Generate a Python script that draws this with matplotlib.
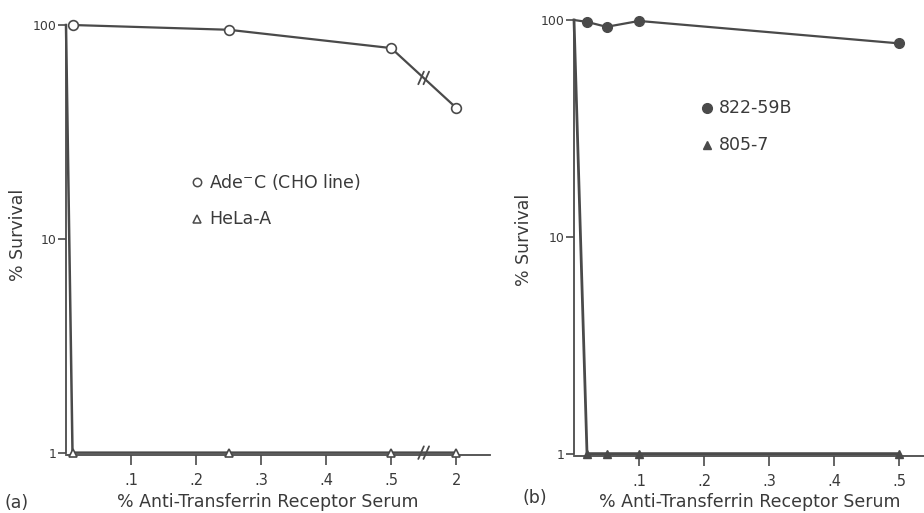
import numpy as np
import matplotlib.pyplot as plt

# panel (a)
a_circ_x = [0.01, 0.25, 0.5, 2]
a_circ_y = [100, 95, 78, 41]
a_tri_x = [0, 0.01, 0.25, 0.5, 2]
a_tri_y = [100, 1, 1, 1, 1]
a_ticks = [0.1, 0.2, 0.3, 0.4, 0.5, 2]
a_ticklabels = ['.1', '.2', '.3', '.4', '.5', '2']

# panel (b)
b_circ_x = [0, 0.02, 0.05, 0.1, 0.5]
b_circ_y = [100, 98, 93, 99, 78]
b_tri_x = [0, 0.02, 0.05, 0.1, 0.5]
b_tri_y = [100, 1, 1, 1, 1]
b_ticks = [0.1, 0.2, 0.3, 0.4, 0.5]
b_ticklabels = ['.1', '.2', '.3', '.4', '.5']

y_ticks = [1, 10, 100]
y_ticklabels = ['1', '10', '100']

INK = '#4a4a4a'
TXT = '#3a3a3a'
FS = 12.5


def brk(x):
    # axis break: 2% is drawn where 0.6 would be
    x = np.asarray(x, dtype=float)
    return np.where(x > 1, 0.6, x)


def style(ax, xmax):
    ax.set_yscale('log')
    ax.set_ylim(0.975, 100)
    ax.set_xlim(0, xmax)
    for s in ['top', 'right']:
        ax.spines[s].set_visible(False)
    for s in ['left', 'bottom']:
        ax.spines[s].set_color(INK)
        ax.spines[s].set_linewidth(1.3)
    ax.spines['left'].set_bounds(1, 100)
    ax.set_yticks(y_ticks)
    ax.set_yticklabels(y_ticklabels)
    ax.yaxis.set_minor_locator(plt.NullLocator())
    ax.tick_params(axis='y', length=6, width=1.2, color=INK, labelsize=9,
                   labelcolor=TXT, pad=1)
    ax.tick_params(axis='x', length=7, width=1.2, color=INK, labelsize=10.5,
                   labelcolor=TXT, pad=6)
    ax.patch.set_alpha(0)


fig = plt.figure(figsize=(9.24, 5.13), dpi=100)

# ---- (a)
ax1 = fig.add_axes([66 / 924, 1 - 455 / 513, 424 / 924, 430 / 513])
style(ax1, 0.652)
ax1.plot(brk(a_circ_x), a_circ_y, color=INK, lw=1.6, marker='o', ms=7,
         mfc='white', mec=INK, mew=1.2, clip_on=False, zorder=3)
ax1.plot(brk(a_tri_x), a_tri_y, color=INK, lw=1.8, marker='^', ms=6,
         mfc='white', mec=INK, mew=1.2, markevery=[1, 2, 3, 4],
         clip_on=False, zorder=3)
ax1.set_xticks(brk(a_ticks))
ax1.set_xticklabels(a_ticklabels)

# break marks on axis and on the circle line
bx = 0.55
ly = 10 ** ((np.log10(a_circ_y[2]) + np.log10(a_circ_y[3])) / 2)
for yy in [1.0, ly]:
    for dx in [-0.004, 0.004]:
        ax1.annotate('', xy=(bx + dx + 0.006, yy * 1.1), xytext=(bx + dx - 0.006, yy / 1.1),
                     arrowprops=dict(arrowstyle='-', color=INK, lw=1.3),
                     annotation_clip=False)
    ax1.plot([bx - 0.003, bx + 0.003], [yy, yy], color='white', lw=2.5, zorder=2)

ax1.plot([0.309], [0.635], transform=ax1.transAxes, marker='o', ms=6,
         mfc='white', mec=INK, mew=1.1, ls='none')
ax1.text(0.338, 0.635, r'Ade$^{-}$C (CHO line)', transform=ax1.transAxes,
         fontsize=FS, color=TXT, va='center')
ax1.plot([0.309], [0.549], transform=ax1.transAxes, marker='^', ms=6,
         mfc='white', mec=INK, mew=1.1, ls='none')
ax1.text(0.338, 0.549, 'HeLa-A', transform=ax1.transAxes,
         fontsize=FS, color=TXT, va='center')

fig.text(18 / 924, 1 - 235 / 513, '% Survival', rotation=90, fontsize=FS,
         color=TXT, ha='center', va='center')
fig.text(268 / 924, 1 - 502 / 513, '% Anti-Transferrin Receptor Serum',
         fontsize=FS, color=TXT, ha='center', va='center')
fig.text(4 / 924, 1 - 503 / 513, '(a)', fontsize=FS, color=TXT,
         ha='left', va='center')

# ---- (b)
ax2 = fig.add_axes([574 / 924, 1 - 456 / 513, 350 / 924, 436 / 513])
style(ax2, 0.538)
ax2.plot(b_circ_x, b_circ_y, color=INK, lw=1.6, marker='o', ms=7,
         mfc=INK, mec=INK, markevery=[1, 2, 3, 4], clip_on=False, zorder=3)
ax2.plot(b_tri_x, b_tri_y, color=INK, lw=2.0, marker='^', ms=6,
         mfc=INK, mec=INK, markevery=[1, 2, 3, 4], clip_on=False, zorder=3)
ax2.set_xticks(b_ticks)
ax2.set_xticklabels(b_ticklabels)

ax2.plot([0.38], [0.798], transform=ax2.transAxes, marker='o', ms=7,
         mfc=INK, mec=INK, ls='none')
ax2.text(0.413, 0.798, '822-59B', transform=ax2.transAxes,
         fontsize=FS, color=TXT, va='center')
ax2.plot([0.38], [0.713], transform=ax2.transAxes, marker='^', ms=6,
         mfc=INK, mec=INK, ls='none')
ax2.text(0.413, 0.713, '805-7', transform=ax2.transAxes,
         fontsize=FS, color=TXT, va='center')

fig.text(524 / 924, 1 - 240 / 513, '% Survival', rotation=90, fontsize=FS,
         color=TXT, ha='center', va='center')
fig.text(750 / 924, 1 - 502 / 513, '% Anti-Transferrin Receptor Serum',
         fontsize=FS, color=TXT, ha='center', va='center')
fig.text(523 / 924, 1 - 498 / 513, '(b)', fontsize=FS, color=TXT,
         ha='left', va='center')

fig.savefig('out.png', dpi=100)
